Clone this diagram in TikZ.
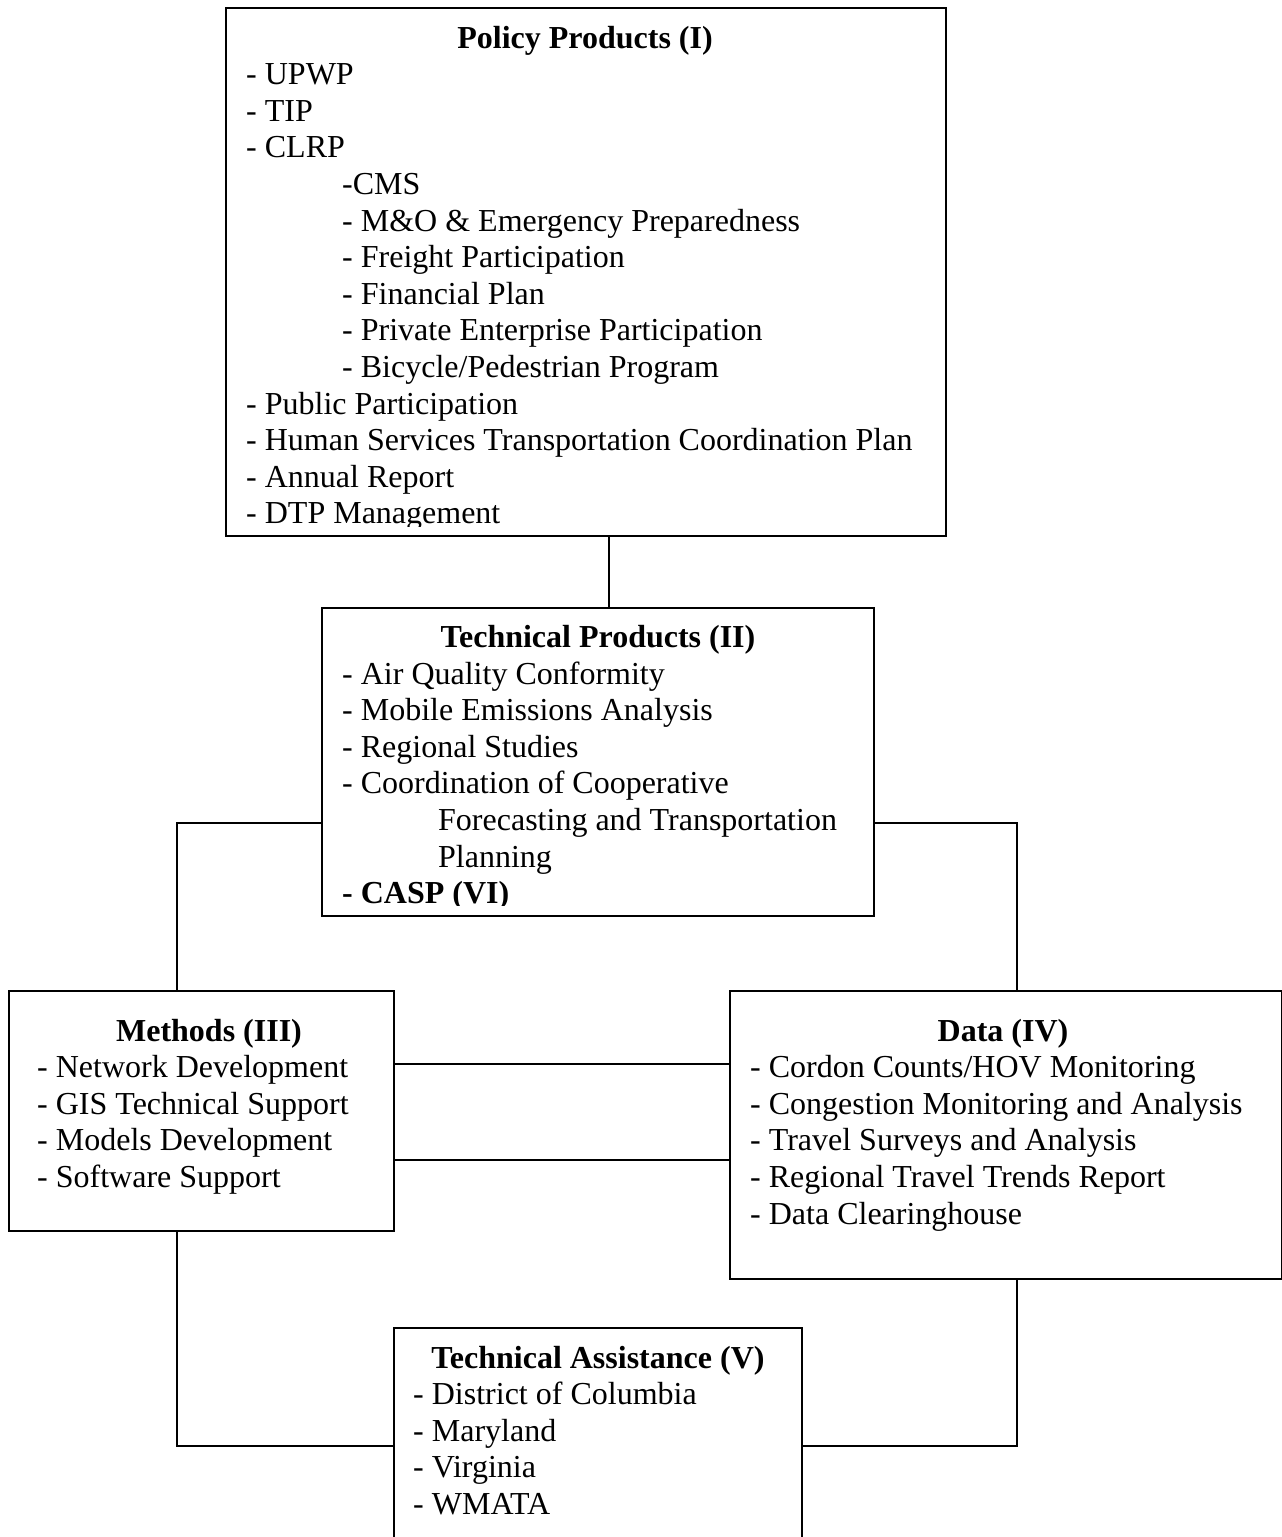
\documentclass[tikz,border=0pt]{standalone}
\usepackage{fontspec}
\setmainfont{Liberation Serif}
\begin{document}
\begin{tikzpicture}[x=1pt,y=-1pt,
  box/.style={draw, line width=2pt, inner sep=0pt, anchor=north west},
  conn/.style={line width=2pt},
  ttl/.style={anchor=base, inner sep=0pt, font=\fontsize{32}{36.6}\selectfont\bfseries},
  body/.style={anchor=base west, inner sep=0pt, font=\fontsize{32}{36.6}\selectfont}]
\useasboundingbox (0,0) rectangle (1282,1537);
\fill[white] (0,0) rectangle (1282,1537);
% boxes
\node[box, minimum width=720pt, minimum height=528pt] (policy) at (225,7) {};
\node[box, minimum width=552pt, minimum height=308pt] (tech) at (321,607) {};
\node[box, minimum width=385pt, minimum height=240pt] (methods) at (8,990) {};
\node[box, minimum width=552pt, minimum height=288pt] (data) at (729,990) {};
\node[box, minimum width=408pt, minimum height=236pt] (ta) at (393,1327) {};
% helper coordinates
\coordinate (vtop) at (609,0);
\coordinate (vleft) at (177,0);
\coordinate (vright) at (1017,0);
\coordinate (hmid) at (0,823);
\coordinate (hone) at (0,1064);
\coordinate (htwo) at (0,1160);
\coordinate (pclip) at (0,526);
\coordinate (tclip) at (0,905);
% policy text
\begin{scope}
\clip (policy.north west) rectangle (policy.east |- pclip);
\node[ttl] (policyT) at (585,48) {Policy Products (I)};
\node[body] (policyB) at (246,84.6) {\vtop{%
\hbox{- UPWP}
\hbox{- TIP}
\hbox{- CLRP}
\hbox{\hskip96pt -CMS}
\hbox{\hskip96pt - M\&O \& Emergency Preparedness}
\hbox{\hskip96pt - Freight Participation}
\hbox{\hskip96pt - Financial Plan}
\hbox{\hskip96pt - Private Enterprise Participation}
\hbox{\hskip96pt - Bicycle/Pedestrian Program}
\hbox{- Public Participation}
\hbox{- Human Services Transportation Coordination Plan}
\hbox{- Annual Report}
\hbox{- DTP Management}}};
\end{scope}
% technical products text
\begin{scope}
\clip (tech.north west) rectangle (tech.east |- tclip);
\node[ttl] (techT) at (598,647) {Technical Products (II)};
\node[body] (techB) at (342,684) {\vtop{%
\hbox{- Air Quality Conformity}
\hbox{- Mobile Emissions Analysis}
\hbox{- Regional Studies}
\hbox{- Coordination of Cooperative}
\hbox{\hskip96pt Forecasting and Transportation}
\hbox{\hskip96pt Planning}
\hbox{\bfseries - CASP (VI)}}};
\end{scope}
% methods
\node[ttl] (methodsT) at (209,1041) {Methods (III)};
\node[body] (methodsB) at (37,1077.6) {\vtop{%
\hbox{- Network Development}
\hbox{- GIS Technical Support}
\hbox{- Models Development}
\hbox{- Software Support}}};
% data
\node[ttl] (dataT) at (1003,1041) {Data (IV)};
\node[body] (dataB) at (750,1077.6) {\vtop{%
\hbox{- Cordon Counts/HOV Monitoring}
\hbox{- Congestion Monitoring and Analysis}
\hbox{- Travel Surveys and Analysis}
\hbox{- Regional Travel Trends Report}
\hbox{- Data Clearinghouse}}};
% technical assistance
\node[ttl] (taT) at (598,1368) {Technical Assistance (V)};
\node[body] (taB) at (413,1404.6) {\vtop{%
\hbox{- District of Columbia}
\hbox{- Maryland}
\hbox{- Virginia}
\hbox{- WMATA}}};
% connectors
\draw[conn] (policy.south -| vtop) -- (tech.north -| vtop);
\draw[conn] (tech.west |- hmid) -| (methods.north -| vleft);
\draw[conn] (tech.east |- hmid) -| (data.north -| vright);
\draw[conn] (methods.east |- hone) -- (data.west |- hone);
\draw[conn] (methods.east |- htwo) -- (data.west |- htwo);
\draw[conn] (methods.south -| vleft) |- (ta.west);
\draw[conn] (data.south -| vright) |- (ta.east);
\end{tikzpicture}
\end{document}
